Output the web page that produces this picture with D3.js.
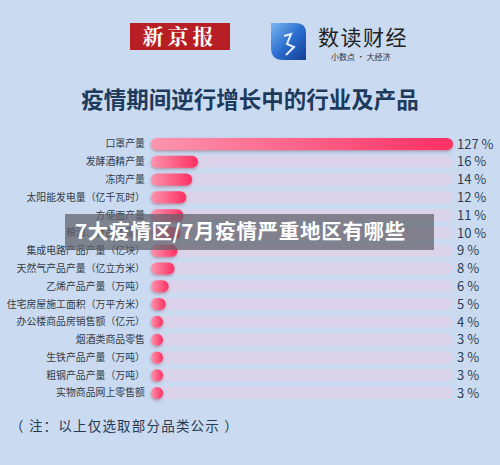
<!DOCTYPE html>
<html><head><meta charset="utf-8">
<script src="https://cdn.jsdelivr.net/npm/d3@7"></script>
<style>body{margin:0;background:#c9daf1;}svg{display:block;}</style>
</head><body>
<script>
const categories = ["口罩产量","发酵酒精产量","冻肉产量","太阳能发电量（亿千瓦时）","方便面产量","粮油、食品类零售","集成电路产品产量（亿块）","天然气产品产量（亿立方米）","乙烯产品产量（万吨）","住宅房屋施工面积（万平方米）","办公楼商品房销售额（亿元）","烟酒类商品零售","生铁产品产量（万吨）","粗钢产品产量（万吨）","实物商品网上零售额"];
const values = [127,16,14,12,11,10,9,8,6,5,4,3,3,3,3];
const valueLabels = values.map(v => v + " %");
const title = "疫情期间逆行增长中的行业及产品";
const note = "（ 注：以上仅选取部分品类公示 ）";
const overlayText = "7大疫情区/7月疫情严重地区有哪些";

const W = 500, H = 465;
const svg = d3.select("body").append("svg").attr("width", W).attr("height", H);
const defs = svg.append("defs");
const g1 = defs.append("linearGradient").attr("id","barg").attr("x1","0").attr("x2","1");
g1.append("stop").attr("offset","0").attr("stop-color","#fb95ad");
g1.append("stop").attr("offset","1").attr("stop-color","#fe2f63");
const f = defs.append("filter").attr("id","sh").attr("x","-20%").attr("y","-50%").attr("width","140%").attr("height","220%");
f.append("feDropShadow").attr("dx",0).attr("dy",1.5).attr("stdDeviation",1.5).attr("flood-color","#8a3050").attr("flood-opacity",0.45);
const lg = defs.append("linearGradient").attr("id","logog").attr("x1","0").attr("y1","0").attr("x2","1").attr("y2","1");
lg.append("stop").attr("offset","0").attr("stop-color","#7ab8f0");
lg.append("stop").attr("offset","0.5").attr("stop-color","#2c6fd0");
lg.append("stop").attr("offset","1").attr("stop-color","#123e94");

svg.append("rect").attr("width",W).attr("height",H).attr("fill","#c9daf1");

// header logos
svg.append("rect").attr("x",130).attr("y",23).attr("width",100).attr("height",27).attr("fill","#b81f24");
svg.append("text").attr("x",180).attr("y",44).attr("text-anchor","middle").attr("fill","#fff")
  .attr("font-family","Noto Serif CJK SC, Noto Sans CJK SC").attr("font-weight","bold").attr("font-size",21)
  .attr("letter-spacing",4).text("新京报");
svg.append("path").attr("d","M271,23 L296,23 Q306,23 306,33 L306,60 L283,60 Q271,60 271,48 Z").attr("fill","url(#logog)");
svg.append("path").attr("d","M284,36 L291,34 L287,44 L294,47 L286,55").attr("fill","none").attr("stroke","#e4f0ff").attr("stroke-width",2);
svg.append("text").attr("x",318).attr("y",45).attr("fill","#222").attr("font-family","Noto Sans CJK SC")
  .attr("font-size",21).attr("letter-spacing",1.5).text("数读财经");
svg.append("text").attr("x",331).attr("y",60).attr("fill","#333").attr("font-family","Noto Sans CJK SC")
  .attr("font-size",8).text("小数点 · 大经济");

svg.append("text").attr("x",250).attr("y",108).attr("text-anchor","middle").attr("fill","#1d3a5c")
  .attr("font-family","Noto Sans CJK SC").attr("font-weight","bold").attr("font-size",22.5).text(title);

// chart
const x0 = 151, trackW = 302, bh = 12;
const y = d3.scaleBand().domain(categories).range([135, 402]).paddingInner(0.33).paddingOuter(0.17);
const xs = d3.scaleLinear().domain([0,16,127]).range([0,47,trackW]);
const rows = svg.append("g");
const row = rows.selectAll("g").data(categories).join("g")
  .attr("transform", d => `translate(0,${y(d) + y.bandwidth()/2})`);
row.append("rect").attr("x",x0).attr("y",-bh/2).attr("width",trackW).attr("height",bh)
  .attr("rx",bh/2).attr("fill","#dbd3ea");
row.append("rect").attr("x",x0).attr("y",-bh/2)
  .attr("width",(d,i)=>Math.max(bh, xs(values[i]))).attr("height",bh)
  .attr("rx",bh/2).attr("fill","url(#barg)").attr("filter","url(#sh)");
row.append("text").attr("x",145).attr("y",0).attr("dy","0.35em").attr("text-anchor","end")
  .attr("fill","#333c48").attr("font-family","Noto Sans CJK SC").attr("font-size",9.9).text(d=>d);
row.append("text").attr("x",457).attr("y",0).attr("dy","0.36em")
  .attr("fill","#2e3d52").attr("font-family","Noto Sans CJK SC").attr("font-size",13).text((d,i)=>valueLabels[i]);

svg.append("text").attr("x",10).attr("y",431).attr("fill","#273a52").attr("font-family","Noto Sans CJK SC")
  .attr("font-size",13.5).attr("letter-spacing",1.2).text(note);

// overlay banner
svg.append("rect").attr("x",65).attr("y",214).attr("width",369).attr("height",36).attr("fill","rgba(95,95,105,0.72)");
svg.append("text").attr("x",75).attr("y",239).attr("fill","#fff").attr("font-family","Noto Sans CJK SC")
  .attr("font-weight","bold").attr("font-size",20.5).attr("letter-spacing",0.7).text(overlayText);
</script>
</body></html>
